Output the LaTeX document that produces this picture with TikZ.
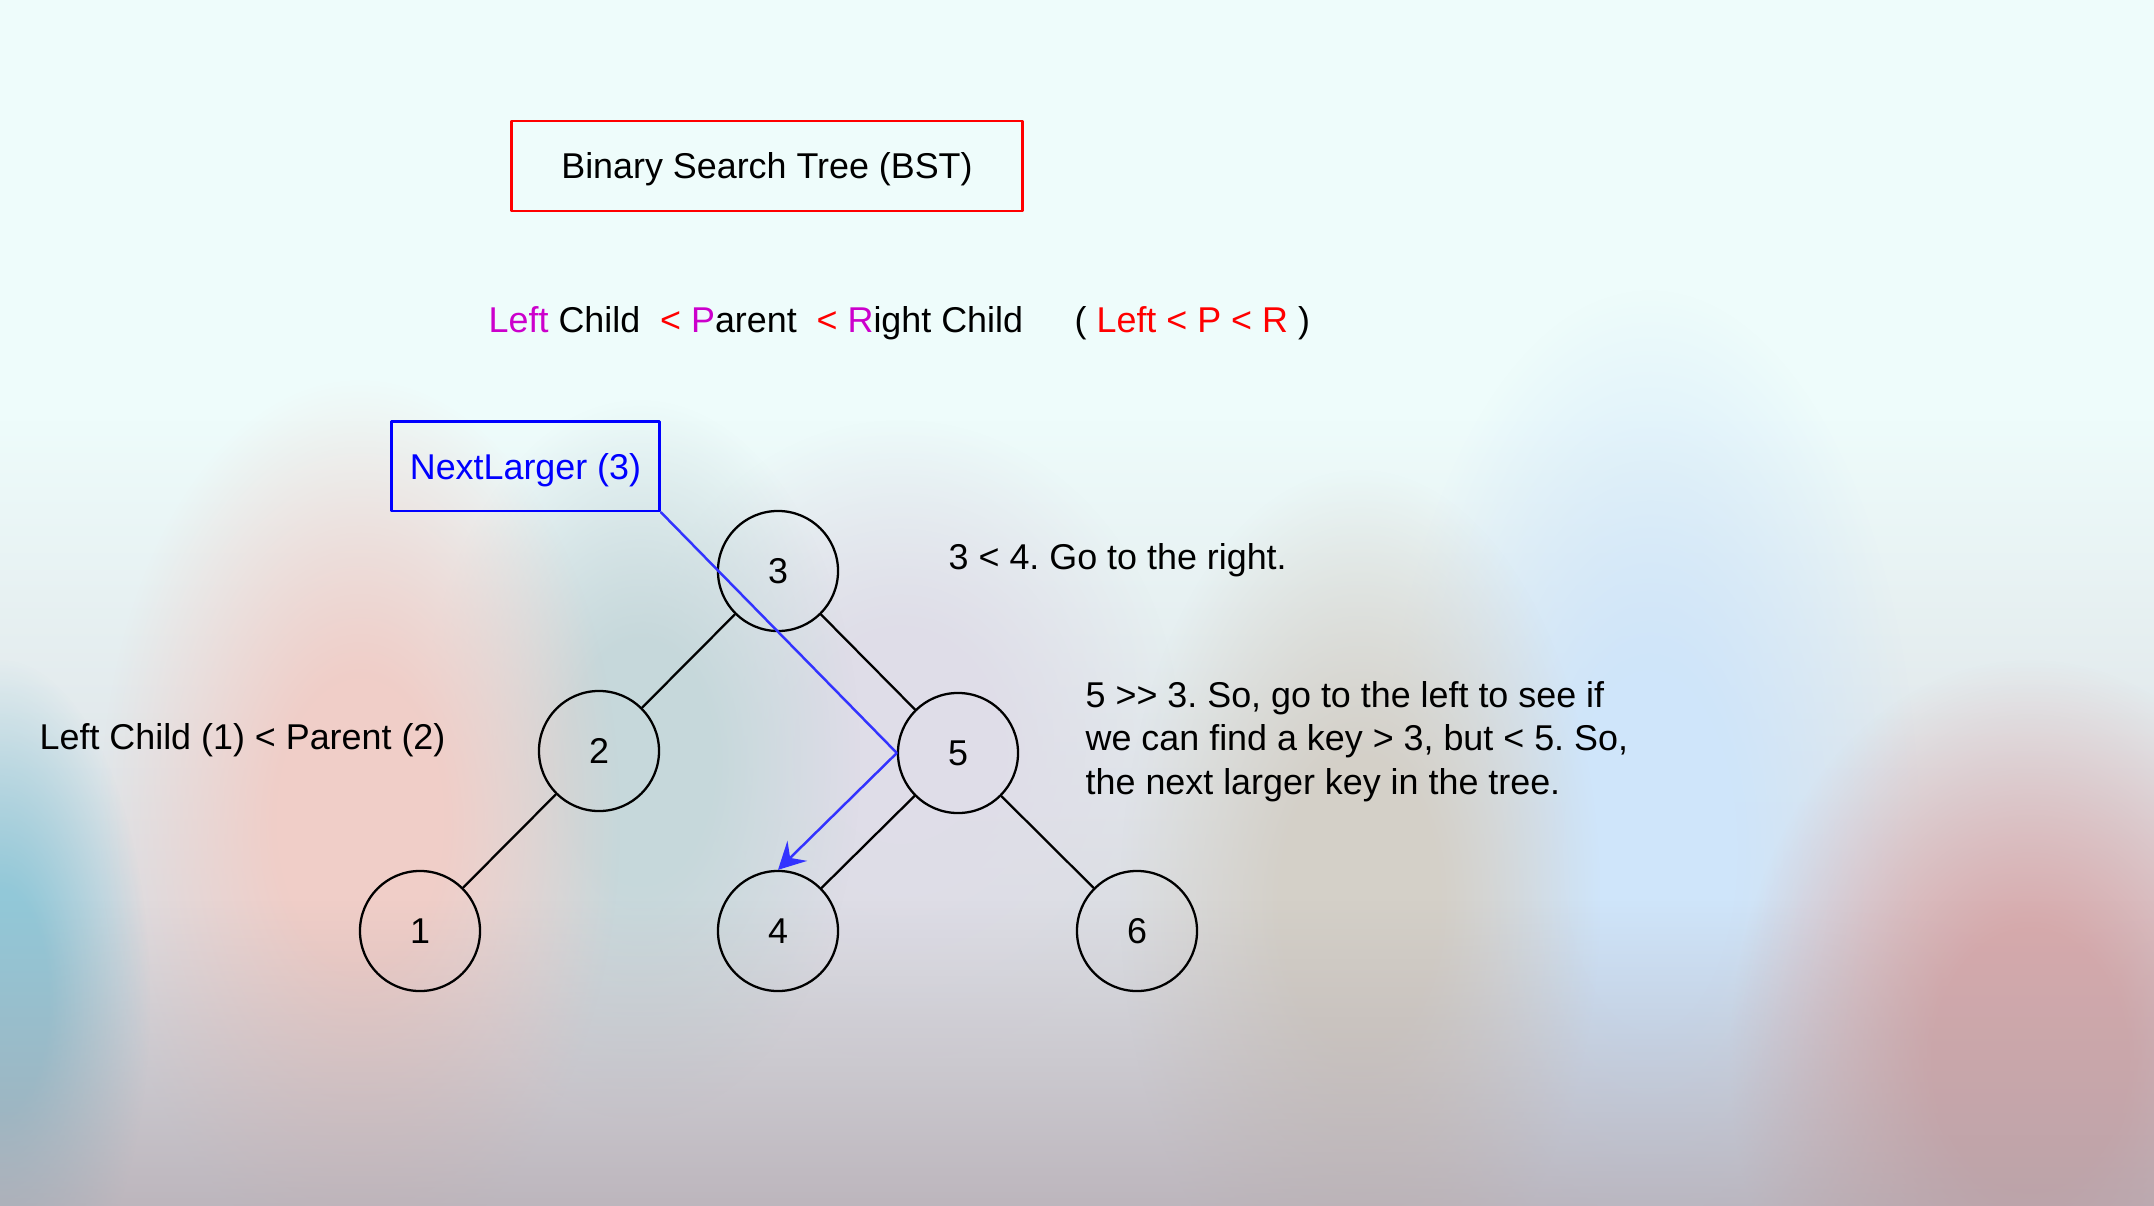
\documentclass[tikz,border=0pt]{standalone}
\usepackage{fontspec}
\setmainfont{Liberation Sans}
\usetikzlibrary{arrows.meta,fadings}
\frenchspacing
\definecolor{bgcyan}{HTML}{EEFCFB}
\definecolor{bggray}{HTML}{DCDFE4}
\definecolor{lmag}{HTML}{CC00CC}
\definecolor{arrblue}{HTML}{3333FF}
\definecolor{blobpink}{HTML}{F0CEC8}
\definecolor{blobteal}{HTML}{92C8D8}
\definecolor{blobsage}{HTML}{C6D8DB}
\definecolor{bloblav}{HTML}{DFDDE8}
\definecolor{blobsand}{HTML}{D4D0C8}
\definecolor{blobsky}{HTML}{CFE5FA}
\definecolor{blobrose}{HTML}{D8AAAC}
\definecolor{blobband}{HTML}{ACA0A8}
\pgfdeclareradialshading{blobshade}{\pgfpointorigin}{color(0bp)=(white); color(8bp)=(white); color(25bp)=(black); color(50bp)=(black)}
\pgfdeclarefading{blobfade}{\pgfuseshading{blobshade}}
\tikzfading[name=upfade, top color=transparent!100, bottom color=transparent!0]
\tikzset{
  keynode/.style={circle, draw, line width=0.65pt, minimum size=1.2cm, inner sep=0pt},
  framebox/.style={draw, line width=0.8pt, text depth=0pt, inner sep=0pt},
  note/.style={inner sep=0pt, anchor=base west},
  blob/.style={path fading=blobfade, fill=#1}
}
\begin{document}
\begin{tikzpicture}[x=0.01cm,y=-0.01cm,font=\fontsize{10.2pt}{12.3pt}\selectfont,line join=round,line cap=round]
\fill[bgcyan] (0,0) rectangle (2154,1206);
\useasboundingbox (0,0) rectangle (2154,1206);
\begin{scope}
\clip (0,0) rectangle (2154,1206);
\fill[bggray, path fading=upfade] (0,420) rectangle (2154,900);
\fill[bggray] (0,899) rectangle (2154,1206);
\foreach \cx/\cy/\rx/\ry/\c in {1650/850/270/560/blobsky, 1360/900/240/430/blobsand, 900/740/280/320/bloblav, 640/760/220/360/blobsage, 360/820/260/440/blobpink, 0/1000/150/340/blobteal, 2030/1060/300/400/blobrose}
  {\fill[blob=\c] (\cx,\cy) ellipse [x radius=\rx, y radius=\ry];}
\fill[blobband, path fading=upfade, opacity=0.85] (0,900) rectangle (2154,1300);
\end{scope}
\node[framebox, draw=red, minimum width=5.1cm, minimum height=0.9cm] (title) at (767,166) {Binary Search Tree (BST)};
\node[note] (rule) at (488,332) {\textcolor{lmag}{Left} Child\ \ \textcolor{red}{<}\ \textcolor{lmag}{P}arent\ \ \textcolor{red}{<}\ \textcolor{lmag}{R}ight Child};
\node[note] (ruleshort) at (1074,332) {( \textcolor{red}{Left < P < R} )};
\node[framebox, draw=blue, text=blue, minimum width=2.68cm, minimum height=0.89cm] (query) at (525.5,466.4) {NextLarger (3)};
\foreach \k/\x/\y in {3/778/571, 2/599/751, 5/958/753, 1/420/931, 4/778/931, 6/1137/931}
  {\node[keynode] (n\k) at (\x,\y) {\k};}
\foreach \a/\b in {3/2, 3/5, 2/1, 5/4, 5/6}
  {\draw[line width=0.65pt] (n\a) -- (n\b);}
\draw[arrblue, line width=0.7pt, -{Stealth[length=2.7mm, width=2.8mm, inset=1mm]}] (query.south east) -- (n5.west) -- (n4.north);
\node[note] (step1) at (948,569) {3 < 4. Go to the right.};
\node[note, anchor=north west, align=left] (step2) at (1085,681) {5 >{}> 3. So, go to the left to see if\\we can find a key > 3, but < 5. So,\\the next larger key in the tree.};
\node[note] (leftnote) at (39,749) {Left Child (1) < Parent (2)};
\end{tikzpicture}
\end{document}
